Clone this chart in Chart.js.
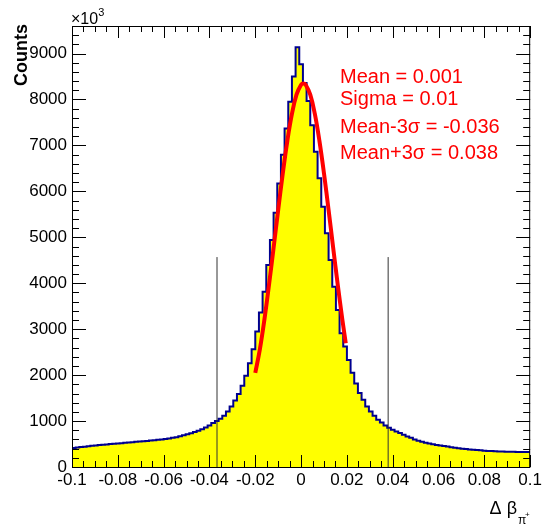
<!DOCTYPE html>
<html>
<head>
<meta charset="utf-8">
<script src="https://cdn.jsdelivr.net/npm/chart.js@4.4.1/dist/chart.umd.min.js"></script>
<style>
  html, body { margin: 0; padding: 0; background: #fff; }
  #wrap { width: 545px; height: 527px; position: relative; }
</style>
</head>
<body>
<div id="wrap"><canvas id="c" width="545" height="527"></canvas></div>
<script>
// histogram: 125 bins on [-0.1, 0.1], counts
const binLow = -0.1;
const binHigh = 0.1;
const counts = [
  400, 412, 422, 433, 443, 453, 462, 470, 477, 484,
  491, 498, 505, 512, 519, 526, 533, 540, 547, 554,
  561, 568, 576, 584, 592, 601, 611, 622, 635, 650,
  668, 690, 712, 736, 762, 790, 822, 858, 905, 956,
  1000, 1050, 1115, 1209, 1317, 1448, 1587, 1767, 1985, 2261,
  2565, 2948, 3361, 3817, 4398, 4941, 5535, 6174, 6800, 7370,
  7950, 8500, 9140, 8770, 8360, 7970, 7441, 6861, 6283, 5665,
  5087, 4507, 3926, 3420, 2913, 2622, 2330, 2050, 1815, 1609,
  1463, 1317, 1209, 1115, 1028, 970, 905, 855, 810, 775,
  740, 700, 665, 635, 600, 572, 550, 530, 510, 495,
  480, 468, 456, 445, 432, 420, 408, 398, 390, 382,
  375, 368, 362, 356, 350, 346, 342, 339, 336, 334,
  332, 330, 329, 327, 326
];

// gaussian fit curve (red)
const fitX = [-0.020, -0.018, -0.016, -0.014, -0.012, -0.010, -0.008, -0.006, -0.004, -0.002,
              0.000, 0.001, 0.002, 0.004, 0.006, 0.008, 0.010, 0.012, 0.014, 0.016, 0.018, 0.0195];
const fitY = [2050, 2560, 3213, 3967, 4774, 5595, 6388, 7100, 7687, 8105,
              8322, 8350, 8322, 8105, 7687, 7100, 6388, 5595, 4774, 3967, 3213, 2695];

// mean -/+ 3 sigma markers
const cutX = [-0.0367, 0.038];
const cutTop = 4570;

const statLines = ["Mean = 0.001", "Sigma = 0.01", "Mean-3\u03c3 = -0.036", "Mean+3\u03c3 = 0.038"];

// axis ticks
const xTicks = [-0.1, -0.08, -0.06, -0.04, -0.02, 0, 0.02, 0.04, 0.06, 0.08, 0.1];
const yTicks = [0, 1000, 2000, 3000, 4000, 5000, 6000, 7000, 8000, 9000];
const yMax = 9600;
const xMinor = 0.005;
const yMinor = 200;

// build step points at bin edges
const binW = (binHigh - binLow) / counts.length;
const histPts = counts.map((v, i) => ({ x: binLow + i * binW, y: v }));
histPts.push({ x: binHigh, y: counts[counts.length - 1] });

const fitPts = fitX.map((x, i) => ({ x, y: fitY[i] }));

const FONT = '"Liberation Sans", Arial, Helvetica, sans-serif';

// ROOT-like frame, inner ticks and extra texts
const rootFrame = {
  id: "rootFrame",
  afterDatasetsDraw(chart) {
    const { ctx, chartArea: a, scales: { x, y } } = chart;
    ctx.save();
    ctx.strokeStyle = "#000";
    ctx.lineWidth = 1;
    ctx.strokeRect(a.left + 0.5, a.top + 0.5, a.right - a.left - 1, a.bottom - a.top);

    ctx.beginPath();
    const nx = Math.round((binHigh - binLow) / xMinor);
    const perMajorX = Math.round((xTicks[1] - xTicks[0]) / xMinor);
    for (let k = 0; k <= nx; k++) {
      const px = Math.round(x.getPixelForValue(binLow + k * xMinor)) + 0.5;
      const len = (k % perMajorX === 0) ? 12 : 6;
      ctx.moveTo(px, a.bottom); ctx.lineTo(px, a.bottom - len);
      ctx.moveTo(px, a.top); ctx.lineTo(px, a.top + len);
    }
    const yStep = yTicks[1] - yTicks[0];
    for (let v = 0; v <= yMax; v += yMinor) {
      const py = Math.round(y.getPixelForValue(v)) + 0.5;
      const len = (v % yStep === 0) ? 14 : 7;
      ctx.moveTo(a.left, py); ctx.lineTo(a.left + len, py);
      ctx.moveTo(a.right, py); ctx.lineTo(a.right - len, py);
    }
    ctx.stroke();

    // stats text
    ctx.fillStyle = "#ff0000";
    ctx.font = "20px " + FONT;
    ctx.textAlign = "left";
    ctx.textBaseline = "alphabetic";
    const base = [83, 105, 133, 159];
    statLines.forEach((t, i) => ctx.fillText(t, 340, base[i]));

    // x10^3
    ctx.fillStyle = "#000";
    ctx.font = "16px " + FONT;
    ctx.fillText("\u00d710", 71, 24);
    const w = ctx.measureText("\u00d710").width;
    ctx.font = "11px " + FONT;
    ctx.fillText("3", 71 + w, 16);

    // y title
    ctx.save();
    ctx.translate(27, 24);
    ctx.rotate(-Math.PI / 2);
    ctx.textAlign = "right";
    ctx.font = "bold 18px " + FONT;
    ctx.fillText("Counts", 0, 0);
    ctx.restore();

    // x title
    ctx.textAlign = "right";
    ctx.font = "18px " + FONT;
    ctx.fillText("\u0394 \u03b2", 517, 514);
    ctx.textAlign = "left";
    ctx.font = "12px " + FONT;
    ctx.fillText("\u03c0", 518, 524);
    ctx.font = "8px " + FONT;
    ctx.fillText("+", 525, 517);
    ctx.restore();
  }
};

const fmtX = v => Math.abs(v) < 1e-9 ? "0" : String(+v.toFixed(3));

new Chart(document.getElementById("c").getContext("2d"), {
  type: "line",
  data: {
    datasets: [
      {
        label: "fit",
        data: fitPts,
        borderColor: "#ff0000",
        borderWidth: 4,
        pointRadius: 0,
        tension: 0.4,
        fill: false,
        order: 0
      },
      {
        label: "cutLow",
        data: [{ x: cutX[0], y: 0 }, { x: cutX[0], y: cutTop }],
        borderColor: "#333",
        borderWidth: 1,
        pointRadius: 0,
        fill: false,
        order: 1
      },
      {
        label: "cutHigh",
        data: [{ x: cutX[1], y: 0 }, { x: cutX[1], y: cutTop }],
        borderColor: "#333",
        borderWidth: 1,
        pointRadius: 0,
        fill: false,
        order: 1
      },
      {
        label: "hist",
        data: histPts,
        stepped: "after",
        borderColor: "#000090",
        borderWidth: 2,
        backgroundColor: "#ffff00",
        pointRadius: 0,
        fill: "origin",
        order: 2
      }
    ]
  },
  options: {
    responsive: false,
    animation: false,
    layout: { padding: { left: 0, top: 26, right: 13, bottom: 0 } },
    plugins: {
      legend: { display: false },
      tooltip: { enabled: false }
    },
    scales: {
      x: {
        type: "linear",
        min: binLow,
        max: binHigh,
        grid: { display: false, drawTicks: false },
        border: { display: false },
        afterBuildTicks: s => { s.ticks = xTicks.map(v => ({ value: v })); },
        ticks: {
          autoSkip: false,
          maxRotation: 0,
          padding: 3,
          color: "#000",
          font: { family: FONT, size: 17 },
          callback: fmtX
        },
        afterFit: s => { s.height = 60; }
      },
      y: {
        type: "linear",
        min: 0,
        max: yMax,
        grid: { display: false, drawTicks: false },
        border: { display: false },
        afterBuildTicks: s => { s.ticks = yTicks.map(v => ({ value: v })); },
        ticks: {
          autoSkip: false,
          padding: 5,
          color: "#000",
          font: { family: FONT, size: 17 },
          callback: v => String(v)
        },
        afterFit: s => { s.width = 72; }
      }
    }
  },
  plugins: [rootFrame]
});
</script>
</body>
</html>
